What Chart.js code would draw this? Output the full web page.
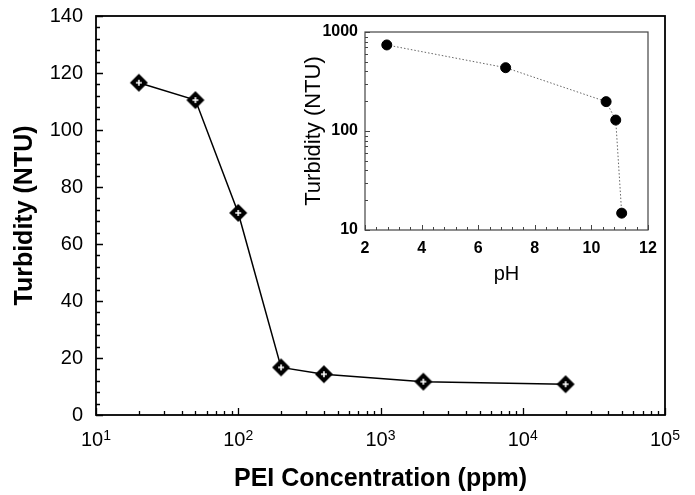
<!DOCTYPE html>
<html>
<head>
<meta charset="utf-8">
<script src="https://cdn.jsdelivr.net/npm/chart.js@4.4.1/dist/chart.umd.min.js"></script>
<style>
  body { margin: 0; background: #fff; }
  #wrap { position: relative; width: 695px; height: 495px; }
  #main { position: absolute; left: 0; top: 0; }
  #inset { position: absolute; left: 290px; top: 18px; }
</style>
</head>
<body>
<div id="wrap">
  <canvas id="main" width="695" height="495"></canvas>
  <canvas id="inset" width="370" height="275"></canvas>
</div>
<script>
// main plot: turbidity vs PEI concentration
const peiConc = [20, 50, 100, 200, 400, 2000, 20000];
const peiTurbidity = [116.6, 110.5, 70.9, 16.7, 14.3, 11.7, 10.8];
const decadeTicks = [10, 100, 1000, 10000, 100000];
const decadeExponents = ['1', '2', '3', '4', '5'];

// inset: turbidity vs pH
const phValues = [2.77, 6.97, 10.52, 10.86, 11.07];
const phTurbidity = [740, 436, 198, 129, 14.8];
const insetYTicks = [10, 100, 1000];

const FONT = '"Liberation Sans", Arial, Helvetica, sans-serif';

// diamond marker with a white plus inside
function diamondMarker() {
  const c = document.createElement('canvas');
  c.width = 20; c.height = 20;
  const g = c.getContext('2d');
  g.fillStyle = '#000';
  g.beginPath();
  g.moveTo(10, 1); g.lineTo(19, 10); g.lineTo(10, 19); g.lineTo(1, 10);
  g.closePath();
  g.fill();
  g.strokeStyle = '#fff';
  g.lineWidth = 1.6;
  g.beginPath();
  g.moveTo(7, 10); g.lineTo(13, 10);
  g.moveTo(10, 7); g.lineTo(10, 13);
  g.stroke();
  return c;
}

// tick marks pointing into the plot + full frame
function frameTicks(spec) {
  return {
    id: 'frameTicks',
    beforeDraw(chart) {
      const a = chart.chartArea, ctx = chart.ctx;
      ctx.save();
      ctx.fillStyle = '#fff';
      ctx.fillRect(a.left, a.top, a.right - a.left, a.bottom - a.top);
      ctx.restore();
    },
    afterDatasetsDraw(chart) {
      const a = chart.chartArea, ctx = chart.ctx;
      const xs = chart.scales.x, ys = chart.scales.y;
      ctx.save();
      ctx.strokeStyle = spec.color;
      ctx.lineWidth = spec.width;
      ctx.strokeRect(a.left, a.top, a.right - a.left, a.bottom - a.top);
      ctx.lineWidth = spec.tickWidth;
      ctx.beginPath();
      spec.xTicks.forEach(t => {
        const px = Math.round(xs.getPixelForValue(t.v)) + 0.5;
        ctx.moveTo(px, a.bottom);
        ctx.lineTo(px, a.bottom - (t.major ? spec.major : spec.minor));
      });
      spec.yTicks.forEach(t => {
        const py = Math.round(ys.getPixelForValue(t.v)) + 0.5;
        ctx.moveTo(a.left, py);
        ctx.lineTo(a.left + (t.major ? spec.major : spec.minor), py);
      });
      ctx.stroke();
      ctx.restore();
    }
  };
}

// 10^n labels with a raised exponent under the log axis
const powerLabels = {
  id: 'powerLabels',
  afterDraw(chart) {
    const ctx = chart.ctx, xs = chart.scales.x;
    const baseY = chart.chartArea.bottom + 31;
    ctx.save();
    ctx.fillStyle = '#000';
    ctx.textBaseline = 'alphabetic';
    ctx.textAlign = 'left';
    decadeTicks.forEach((v, i) => {
      const px = xs.getPixelForValue(v);
      ctx.font = '20px ' + FONT;
      const wBase = ctx.measureText('10').width;
      ctx.font = '14px ' + FONT;
      const wExp = ctx.measureText(decadeExponents[i]).width;
      const x0 = px - (wBase + wExp) / 2;
      ctx.font = '20px ' + FONT;
      ctx.fillText('10', x0, baseY);
      ctx.font = '14px ' + FONT;
      ctx.fillText(decadeExponents[i], x0 + wBase, baseY - 6);
    });
    ctx.restore();
  }
};

const logMinor = (from, to) => {
  const out = [];
  for (let d = from; d < to; d *= 10) {
    for (let k = 1; k <= 9; k++) out.push({ v: d * k, major: k === 1 });
  }
  out.push({ v: to, major: true });
  return out;
};

const mainX = logMinor(10, 100000);
const mainY = [];
for (let v = 0; v <= 140; v += 4) mainY.push({ v, major: v % 20 === 0 });

const insetX = [];
for (let i = 0; i <= 25; i++) insetX.push({ v: 2 + i * 0.4, major: i % 5 === 0 });
const insetY = logMinor(10, 1000);

const fitX = h => s => { s.height = h; s.paddingLeft = 0; s.paddingRight = 0; };
const fitY = w => s => { s.width = w; s.paddingTop = 0; s.paddingBottom = 0; };

new Chart(document.getElementById('main'), {
  type: 'line',
  data: {
    datasets: [{
      data: peiConc.map((x, i) => ({ x, y: peiTurbidity[i] })),
      borderColor: '#000',
      borderWidth: 1.5,
      pointStyle: diamondMarker(),
      pointRadius: 9,
      tension: 0,
    }],
  },
  options: {
    responsive: false,
    animation: false,
    events: [],
    layout: { padding: { top: 16, right: 30, left: 0, bottom: 0 } },
    plugins: { legend: { display: false }, tooltip: { enabled: false } },
    scales: {
      x: {
        type: 'logarithmic',
        min: 10,
        max: 100000,
        grid: { display: false, drawTicks: false },
        border: { display: false },
        afterBuildTicks: s => { s.ticks = decadeTicks.map(value => ({ value })); },
        afterFit: fitX(80),
        ticks: { display: false },
        title: {
          display: true,
          text: 'PEI Concentration (ppm)',
          color: '#000',
          font: { family: FONT, size: 25, weight: 'bold' },
          padding: { top: 0, bottom: 1 },
        },
      },
      y: {
        min: 0,
        max: 140,
        grid: { display: false, drawTicks: false },
        border: { display: false },
        afterFit: fitY(96),
        ticks: {
          stepSize: 20,
          color: '#000',
          padding: 13,
          font: { family: FONT, size: 20 },
        },
        title: {
          display: true,
          text: 'Turbidity (NTU)',
          color: '#000',
          font: { family: FONT, size: 25, weight: 'bold' },
          padding: { top: 10, bottom: 0 },
        },
      },
    },
  },
  plugins: [
    frameTicks({ color: '#000', width: 1.8, tickWidth: 1.3, major: 7, minor: 4, xTicks: mainX, yTicks: mainY }),
    powerLabels,
  ],
});

new Chart(document.getElementById('inset'), {
  type: 'line',
  data: {
    datasets: [{
      data: phValues.map((x, i) => ({ x, y: phTurbidity[i] })),
      borderColor: '#666',
      borderWidth: 1,
      borderDash: [1.5, 2],
      pointBackgroundColor: '#000',
      pointBorderColor: '#000',
      pointRadius: 5,
      tension: 0,
    }],
  },
  options: {
    responsive: false,
    animation: false,
    events: [],
    layout: { padding: { top: 14, right: 12, left: 0, bottom: 0 } },
    plugins: { legend: { display: false }, tooltip: { enabled: false } },
    scales: {
      x: {
        type: 'linear',
        min: 2,
        max: 12,
        grid: { display: false, drawTicks: false },
        border: { display: false },
        afterFit: fitX(63),
        ticks: {
          stepSize: 2,
          color: '#000',
          padding: 9,
          maxRotation: 0,
          font: { family: FONT, size: 16, weight: 'bold' },
        },
        title: {
          display: true,
          text: 'pH',
          color: '#000',
          font: { family: FONT, size: 20 },
          padding: { top: 0, bottom: 7 },
        },
      },
      y: {
        type: 'logarithmic',
        min: 10,
        max: 1000,
        grid: { display: false, drawTicks: false },
        border: { display: false },
        afterBuildTicks: s => { s.ticks = insetYTicks.map(value => ({ value })); },
        afterFit: fitY(75),
        ticks: {
          color: '#000',
          padding: 7,
          font: { family: FONT, size: 16, weight: 'bold' },
          callback: v => String(v),
        },
        title: {
          display: true,
          text: 'Turbidity (NTU)',
          color: '#000',
          font: { family: FONT, size: 22 },
          padding: { top: 11, bottom: 0 },
        },
      },
    },
  },
  plugins: [frameTicks({ color: '#444', width: 1.2, tickWidth: 1, major: 5, minor: 3, xTicks: insetX, yTicks: insetY })],
});
</script>
</body>
</html>
